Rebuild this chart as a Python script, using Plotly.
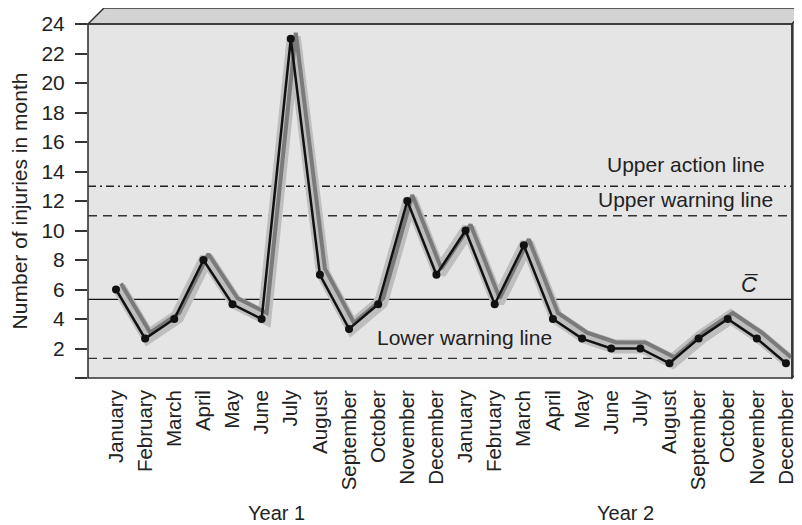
import plotly.graph_objects as go

months = ["January", "February", "March", "April", "May", "June", "July", "August",
          "September", "October", "November", "December"]
labels = months + months
injuries = [6, 2.67, 4, 8, 5, 4, 23, 7, 3.33, 5, 12, 7,
            10, 5, 9, 4, 2.67, 2, 2, 1, 2.67, 4, 2.67, 1]
c_bar = 5.33
upper_action = 13
upper_warning = 11
lower_warning = 1.33
y_ticks = [0, 2, 4, 6, 8, 10, 12, 14, 16, 18, 20, 22, 24]
year_labels = ["Year 1", "Year 2"]

x = list(range(len(injuries)))
xr = [-0.961, 23.206]
yr = [0, 24]
OFF = 8  # page body margin
W, H = 802 - OFF, 525 - OFF
L, T = 88 - OFF, 24 - OFF
R = W - (792 - OFF)
B = H - (378 - OFF)
pw = W - L - R
ph = H - T - B
ux = pw / (xr[1] - xr[0])
uy = ph / (yr[1] - yr[0])

FONT = "Liberation Sans, Arial, sans-serif"
TC = "#222222"
fig = go.Figure()

def shifted(dxp, dyp):
    return [xi + dxp / ux for xi in x], [yi + dyp / uy for yi in injuries]

sx, sy = shifted(3, 2)
fig.add_trace(go.Scatter(x=sx, y=sy, mode="lines",
                         line=dict(color="#bebebf", width=14), hoverinfo="skip"))
sx, sy = shifted(5, 6)
fig.add_trace(go.Scatter(x=sx, y=sy, mode="lines",
                         line=dict(color="#7a7a7a", width=4), hoverinfo="skip"))
fig.add_trace(go.Scatter(x=x, y=injuries, mode="lines+markers",
                         line=dict(color="#111111", width=2.5),
                         marker=dict(color="#111111", size=8)))

shapes = []
fx = lambda px: (px - OFF - L) / pw
fy = lambda py: (H - B - (py - OFF)) / ph
shapes.append(dict(type="path", xref="paper", yref="paper",
                   path=f"M 0 1 L {fx(104)} {fy(8)} L {fx(808)} {fy(8)} L 1 1 Z",
                   fillcolor="#d3d3d4", line=dict(color="#333333", width=1.5), layer="below"))
shapes.append(dict(type="path", xref="paper", yref="paper",
                   path=f"M 1 1 L {fx(808)} {fy(8)} L {fx(808)} {fy(362)} L 1 0 Z",
                   fillcolor="#7f7f80", line=dict(color="#333333", width=1.5), layer="below"))
shapes.append(dict(type="line", xref="paper", yref="y", x0=0, x1=1, y0=upper_action, y1=upper_action,
                   line=dict(color="#222222", width=1.3, dash="8px,4px,2px,4px"), layer="below"))
shapes.append(dict(type="line", xref="paper", yref="y", x0=0, x1=1, y0=upper_warning, y1=upper_warning,
                   line=dict(color="#333333", width=1.3, dash="9px,6px"), layer="below"))
shapes.append(dict(type="line", xref="paper", yref="y", x0=0, x1=1, y0=lower_warning, y1=lower_warning,
                   line=dict(color="#333333", width=1.3, dash="9px,6px"), layer="below"))
shapes.append(dict(type="line", xref="paper", yref="y", x0=0, x1=1, y0=c_bar, y1=c_bar,
                   line=dict(color="#111111", width=1.2), layer="below"))
shapes.append(dict(type="rect", xref="paper", yref="paper", x0=0, x1=1, y0=0, y1=1,
                   line=dict(color="#333333", width=1.6), layer="above"))

tf = dict(family=FONT, size=21, color=TC)
annotations = [
    dict(x=22.35, y=14.45, xref="x", yref="y", text="Upper action line", showarrow=False,
         xanchor="right", yanchor="middle", font=tf),
    dict(x=22.62, y=12.08, xref="x", yref="y", text="Upper warning line", showarrow=False,
         xanchor="right", yanchor="middle", font=tf),
    dict(x=11.95, y=2.73, xref="x", yref="y", text="Lower warning line", showarrow=False,
         xanchor="center", yanchor="middle", font=tf),
    dict(x=21.73, y=6.32, xref="x", yref="y", text="<i>C\u0305</i>", showarrow=False,
         xanchor="center", yanchor="middle", font=dict(family=FONT, size=22, color=TC)),
    dict(x=5.5, y=fy(513), xref="x", yref="paper", text=year_labels[0], showarrow=False,
         xanchor="center", yanchor="middle", font=dict(family=FONT, size=20, color=TC)),
    dict(x=17.5, y=fy(513), xref="x", yref="paper", text=year_labels[1], showarrow=False,
         xanchor="center", yanchor="middle", font=dict(family=FONT, size=20, color=TC)),
]

fig.update_layout(
    width=W, height=H,
    margin=dict(l=L, r=R, t=T, b=B),
    paper_bgcolor="white", plot_bgcolor="#e5e5e6",
    showlegend=False,
    shapes=shapes, annotations=annotations,
    font=dict(family=FONT, size=20, color=TC),
    xaxis=dict(range=xr, tickmode="array", tickvals=x, ticktext=labels, tickangle=-90,
               showgrid=False, zeroline=False, showline=False, ticks="", automargin=False,
               ticklabelstandoff=7, tickfont=dict(family=FONT, size=20.5, color=TC)),
    yaxis=dict(range=yr, tickmode="array", tickvals=y_ticks,
               ticktext=["" if v == 0 else str(v) for v in y_ticks],
               showgrid=False, zeroline=False, showline=False, ticks="outside", automargin=False,
               ticklen=12, tickwidth=1.5, tickcolor="#333333", ticklabelstandoff=6,
               tickfont=dict(family=FONT, size=21, color=TC),
               title=dict(text="Number of injuries in month", standoff=10,
                          font=dict(family=FONT, size=21, color=TC))),
)

fig.write_html("out.html")
